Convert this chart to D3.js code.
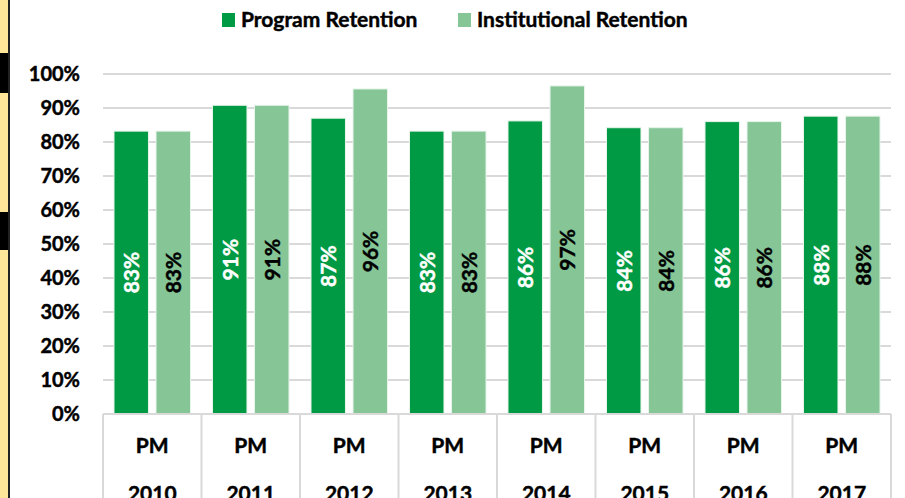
<!DOCTYPE html>
<html>
<head>
<meta charset="utf-8">
<script src="https://cdn.jsdelivr.net/npm/d3@7"></script>
<style>
  body { margin: 0; background: #fff; }
  svg { display: block; font-family: Lato, "Open Sans", sans-serif; font-weight: bold; }
  svg text { stroke-width: 0.45px; }
</style>
</head>
<body>
<div id="chart"></div>
<script>
var svgwidth = 905;
var svgheight = 498;
var margin = { top: 74, bottom: 84, right: 14, left: 103 };
var width = svgwidth - margin.left - margin.right;
var height = svgheight - margin.top - margin.bottom;

// data
var years = ["2010", "2011", "2012", "2013", "2014", "2015", "2016", "2017"];
var seriesNames = ["Program Retention", "Institutional Retention"];
var programRetention = [83.2, 90.8, 87.0, 83.2, 86.2, 84.2, 86.0, 87.6];
var institutionalRetention = [83.2, 90.8, 95.6, 83.2, 96.5, 84.2, 86.0, 87.6];
var yTicks = [0, 10, 20, 30, 40, 50, 60, 70, 80, 90, 100];
var colors = ["#009a44", "#85c596"];
var labelColors = ["#ffffff", "#000000"];

var rows = years.map(function(y, i) {
    return { year: y, values: [programRetention[i], institutionalRetention[i]] };
});

var svg = d3.select("#chart").append("svg").attr("width", svgwidth).attr("height", svgheight);

// left strip from the slide behind the chart
svg.append("rect").attr("x", 0).attr("y", 0).attr("width", 8).attr("height", svgheight).attr("fill", "#ffe699");
svg.append("rect").attr("x", 8).attr("y", 0).attr("width", 2).attr("height", svgheight).attr("fill", "#222");
svg.append("rect").attr("x", 0).attr("y", 53).attr("width", 8).attr("height", 40).attr("fill", "#000");
svg.append("rect").attr("x", 0).attr("y", 212).attr("width", 8).attr("height", 38).attr("fill", "#000");

var chartGroup = svg.append("g").attr("transform", `translate(${margin.left}, ${margin.top})`);

var x0 = d3.scaleBand().domain(years).range([0, width]).paddingInner(0).paddingOuter(0);
var x1 = d3.scaleBand().domain([0, 1]).range([11, x0.bandwidth() - 11]).paddingInner(0.18);
var y = d3.scaleLinear().domain([0, 100]).range([height, 0]);

// gridlines
chartGroup.append("g")
    .selectAll("line")
    .data(yTicks.slice(1))
    .enter().append("line")
    .attr("x1", 0).attr("x2", width)
    .attr("y1", d => y(d)).attr("y2", d => y(d))
    .attr("stroke", "#d9d9d9").attr("stroke-width", 2);

// y axis labels
var leftAxis = d3.axisLeft(y).tickValues(yTicks).tickFormat(d => d + "%").tickSize(0).tickPadding(23);
var yAxisG = chartGroup.append("g").call(leftAxis);
yAxisG.select(".domain").remove();
yAxisG.selectAll("text").attr("font-size", 20).attr("fill", "#000").attr("stroke", "#000")
    .attr("font-family", "Lato").attr("font-weight", "bold");

// bars
var groups = chartGroup.selectAll(".year")
    .data(rows)
    .enter().append("g")
    .attr("class", "year")
    .attr("transform", d => `translate(${x0(d.year)},0)`);

var cells = groups.selectAll(".bar")
    .data(d => d.values.map((v, k) => ({ k: k, v: v })))
    .enter().append("g");

cells.append("rect")
    .attr("x", d => x1(d.k))
    .attr("y", d => y(d.v))
    .attr("width", x1.bandwidth())
    .attr("height", d => height - y(d.v))
    .attr("fill", d => colors[d.k])
    .attr("stroke", "#e6f4ea").attr("stroke-width", 1);

cells.append("text")
    .attr("transform", d => `translate(${x1(d.k) + x1.bandwidth() / 2 + 8},${(y(d.v) + height) / 2}) rotate(-90)`)
    .attr("text-anchor", "middle")
    .attr("font-size", 21)
    .attr("fill", d => labelColors[d.k])
    .attr("stroke", d => labelColors[d.k])
    .text(d => Math.round(d.v) + "%");

// category boxes under the axis
var axisG = chartGroup.append("g").attr("transform", `translate(0,${height})`);
axisG.append("line").attr("x1", 0).attr("x2", width).attr("y1", 0).attr("y2", 0)
    .attr("stroke", "#d9d9d9").attr("stroke-width", 2);
axisG.selectAll(".div")
    .data(years.concat(["end"]))
    .enter().append("line")
    .attr("x1", (d, i) => i * x0.bandwidth()).attr("x2", (d, i) => i * x0.bandwidth())
    .attr("y1", 0).attr("y2", 90)
    .attr("stroke", "#d9d9d9").attr("stroke-width", 2);
var catLabels = axisG.selectAll(".cat")
    .data(years)
    .enter().append("text")
    .attr("text-anchor", "middle")
    .attr("font-size", 21)
    .attr("fill", "#000")
    .attr("stroke", "#000");
catLabels.append("tspan").attr("x", d => x0(d) + x0.bandwidth() / 2).attr("y", 39).text("PM");
catLabels.append("tspan").attr("x", d => x0(d) + x0.bandwidth() / 2).attr("y", 87).text(d => d);

// legend
var legend = svg.append("g");
var legendX = [222, 458];
seriesNames.forEach(function(name, k) {
    legend.append("rect").attr("x", legendX[k]).attr("y", 13).attr("width", 13).attr("height", 14).attr("fill", colors[k]);
    legend.append("text").attr("x", legendX[k] + 19).attr("y", 27).attr("font-size", 21)
        .attr("fill", "#000").attr("stroke", "#000").text(name);
});
</script>
</body>
</html>
